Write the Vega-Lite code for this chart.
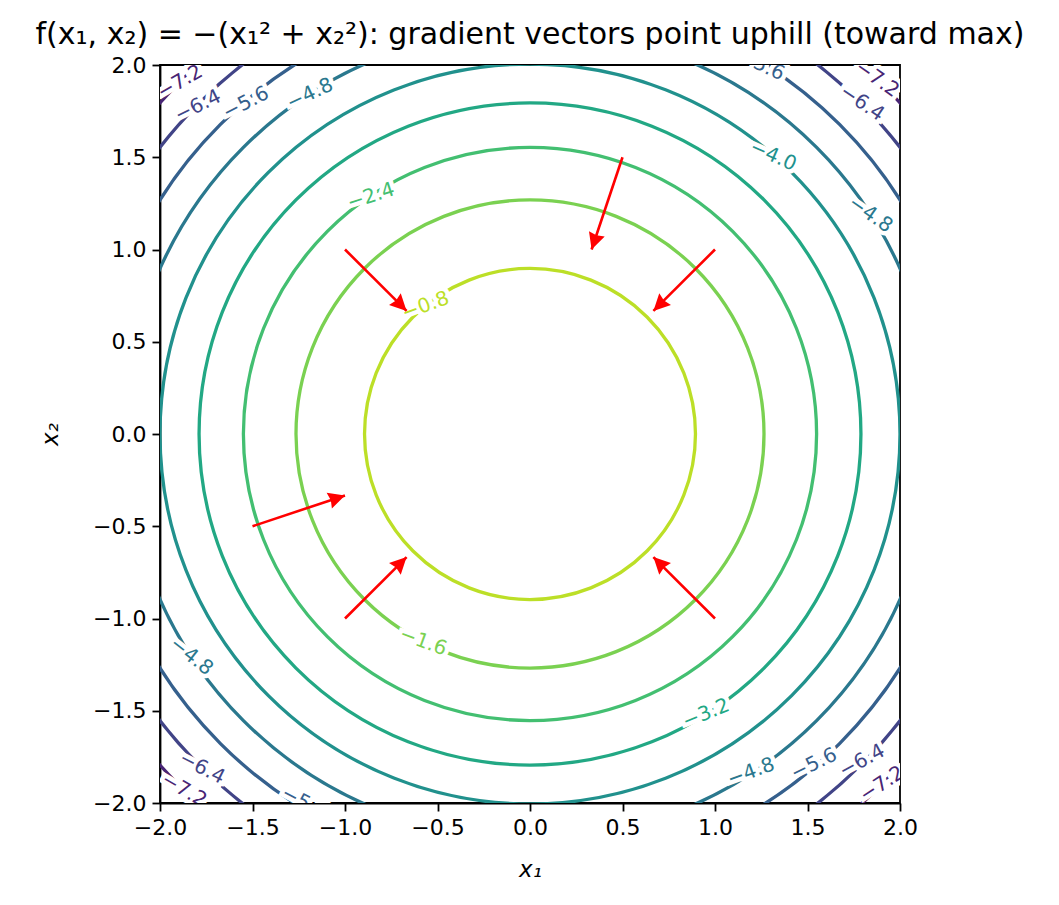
{
  "$schema": "https://vega.github.io/schema/vega-lite/v6.json",
  "autosize": {"type": "none"},
  "padding": {"left": 160, "top": 65, "right": 159, "bottom": 102},
  "width": 740,
  "height": 738,
  "background": "white",
  "title": {
    "text": "f(x₁, x₂) = −(x₁² + x₂²): gradient vectors point uphill (toward max)",
    "font": "DejaVu Sans",
    "fontSize": 30,
    "fontWeight": "normal",
    "color": "black",
    "anchor": "middle",
    "offset": 4
  },
  "datasets": {
    "levels": [
      {"level": -0.8, "cx": 0, "cy": 0},
      {"level": -1.6, "cx": 0, "cy": 0},
      {"level": -2.4, "cx": 0, "cy": 0},
      {"level": -3.2, "cx": 0, "cy": 0},
      {"level": -4.0, "cx": 0, "cy": 0},
      {"level": -4.8, "cx": 0, "cy": 0},
      {"level": -5.6, "cx": 0, "cy": 0},
      {"level": -6.4, "cx": 0, "cy": 0},
      {"level": -7.2, "cx": 0, "cy": 0}
    ],
    "labels": [
      {"level": -0.8, "lx": -0.565, "ly": 0.695, "rot": -20},
      {"level": -1.6, "lx": -0.578, "ly": -1.125, "rot": 20},
      {"level": -2.4, "lx": -0.86, "ly": 1.288, "rot": -18},
      {"level": -3.2, "lx": 0.951, "ly": -1.515, "rot": -22},
      {"level": -4.0, "lx": 1.314, "ly": 1.508, "rot": 24},
      {"level": -4.8, "lx": 1.84, "ly": 1.19, "rot": 35},
      {"level": -5.6, "lx": 1.25, "ly": 2.0, "rot": 25},
      {"level": -6.4, "lx": 1.795, "ly": 1.794, "rot": 34},
      {"level": -7.2, "lx": 1.876, "ly": 1.924, "rot": 35},
      {"level": -7.2, "lx": -1.892, "ly": 1.908, "rot": -30},
      {"level": -6.4, "lx": -1.795, "ly": 1.778, "rot": -26},
      {"level": -5.6, "lx": -1.535, "ly": 1.794, "rot": -27},
      {"level": -4.8, "lx": -1.189, "ly": 1.843, "rot": -25},
      {"level": -4.8, "lx": -1.83, "ly": -1.205, "rot": 38},
      {"level": -6.4, "lx": -1.773, "ly": -1.81, "rot": 27},
      {"level": -7.2, "lx": -1.87, "ly": -1.93, "rot": 30},
      {"level": -5.6, "lx": -1.22, "ly": -2.0, "rot": 28},
      {"level": -4.8, "lx": 1.195, "ly": -1.832, "rot": -20},
      {"level": -5.6, "lx": 1.535, "ly": -1.789, "rot": -26},
      {"level": -6.4, "lx": 1.795, "ly": -1.772, "rot": -28},
      {"level": -7.2, "lx": 1.903, "ly": -1.897, "rot": -33}
    ],
    "arrows": [
      {"sx": 1, "sy": 1, "tx": 0.667, "ty": 0.667, "heading": 225},
      {"sx": -1, "sy": 1, "tx": -0.667, "ty": 0.667, "heading": 135},
      {"sx": 0.5, "sy": 1.5, "tx": 0.333, "ty": 1.0, "heading": 198.43},
      {"sx": -1.5, "sy": -0.5, "tx": -1.0, "ty": -0.333, "heading": 71.57},
      {"sx": -1, "sy": -1, "tx": -0.667, "ty": -0.667, "heading": 45},
      {"sx": 1, "sy": -1, "tx": 0.667, "ty": -0.667, "heading": 315}
    ]
  },
  "layer": [
    {
      "data": {"name": "levels"},
      "mark": {"type": "point", "shape": "circle", "filled": false, "strokeWidth": 3.3, "opacity": 1, "clip": true},
      "encoding": {
        "x": {
          "field": "cx", "type": "quantitative",
          "scale": {"domain": [-2, 2], "nice": false, "zero": false},
          "axis": {"title": "x₁", "titlePadding": 20, "values": [-2, -1.5, -1, -0.5, 0, 0.5, 1, 1.5, 2], "format": ".1f"}
        },
        "y": {
          "field": "cy", "type": "quantitative",
          "scale": {"domain": [-2, 2], "nice": false, "zero": false},
          "axis": {"title": "x₂", "titlePadding": 30, "values": [-2, -1.5, -1, -0.5, 0, 0.5, 1, 1.5, 2], "format": ".1f"}
        },
        "size": {
          "field": "level", "type": "quantitative",
          "scale": {"type": "linear", "domain": [0, -8], "range": [0, 1095200]},
          "legend": null
        },
        "color": {
          "field": "level", "type": "quantitative",
          "scale": {"scheme": "viridis", "domain": [-8, 0]},
          "legend": null
        }
      }
    },
    {
      "data": {"name": "labels"},
      "mark": {"type": "text", "font": "DejaVu Sans", "fontSize": 20, "color": "white", "stroke": "white", "strokeWidth": 9, "align": "center", "baseline": "middle", "clip": true},
      "encoding": {
        "x": {"field": "lx", "type": "quantitative"},
        "y": {"field": "ly", "type": "quantitative"},
        "angle": {"field": "rot", "type": "quantitative", "scale": null},
        "text": {"field": "level", "type": "quantitative", "format": ".1f"}
      }
    },
    {
      "data": {"name": "labels"},
      "mark": {"type": "text", "font": "DejaVu Sans", "fontSize": 20, "align": "center", "baseline": "middle", "clip": true},
      "encoding": {
        "x": {"field": "lx", "type": "quantitative"},
        "y": {"field": "ly", "type": "quantitative"},
        "angle": {"field": "rot", "type": "quantitative", "scale": null},
        "text": {"field": "level", "type": "quantitative", "format": ".1f"},
        "color": {"field": "level", "type": "quantitative", "legend": null}
      }
    },
    {
      "data": {"name": "arrows"},
      "mark": {"type": "rule", "color": "red", "strokeWidth": 2.6},
      "encoding": {
        "x": {"field": "sx", "type": "quantitative"},
        "y": {"field": "sy", "type": "quantitative"},
        "x2": {"field": "tx"},
        "y2": {"field": "ty"}
      }
    },
    {
      "data": {"name": "arrows"},
      "mark": {"type": "point", "shape": "M0,0 L-0.5,1 L0,0.9 L0.5,1 Z", "filled": true, "color": "red", "opacity": 1, "size": 1100, "strokeWidth": 0},
      "encoding": {
        "x": {"field": "tx", "type": "quantitative"},
        "y": {"field": "ty", "type": "quantitative"},
        "angle": {"field": "heading", "type": "quantitative", "scale": null}
      }
    }
  ],
  "config": {
    "view": {"stroke": "black", "strokeWidth": 1.8},
    "axis": {
      "grid": false,
      "labelFont": "DejaVu Sans",
      "labelFontSize": 22,
      "labelColor": "black",
      "labelFlush": false,
      "labelOverlap": false,
      "labelPadding": 6,
      "titleFont": "DejaVu Sans",
      "titleFontSize": 23,
      "titleFontWeight": "normal",
      "titleFontStyle": "italic",
      "titleColor": "black",
      "tickColor": "black",
      "tickSize": 8,
      "tickWidth": 1.8,
      "domainColor": "black",
      "domainWidth": 1.8
    }
  }
}
